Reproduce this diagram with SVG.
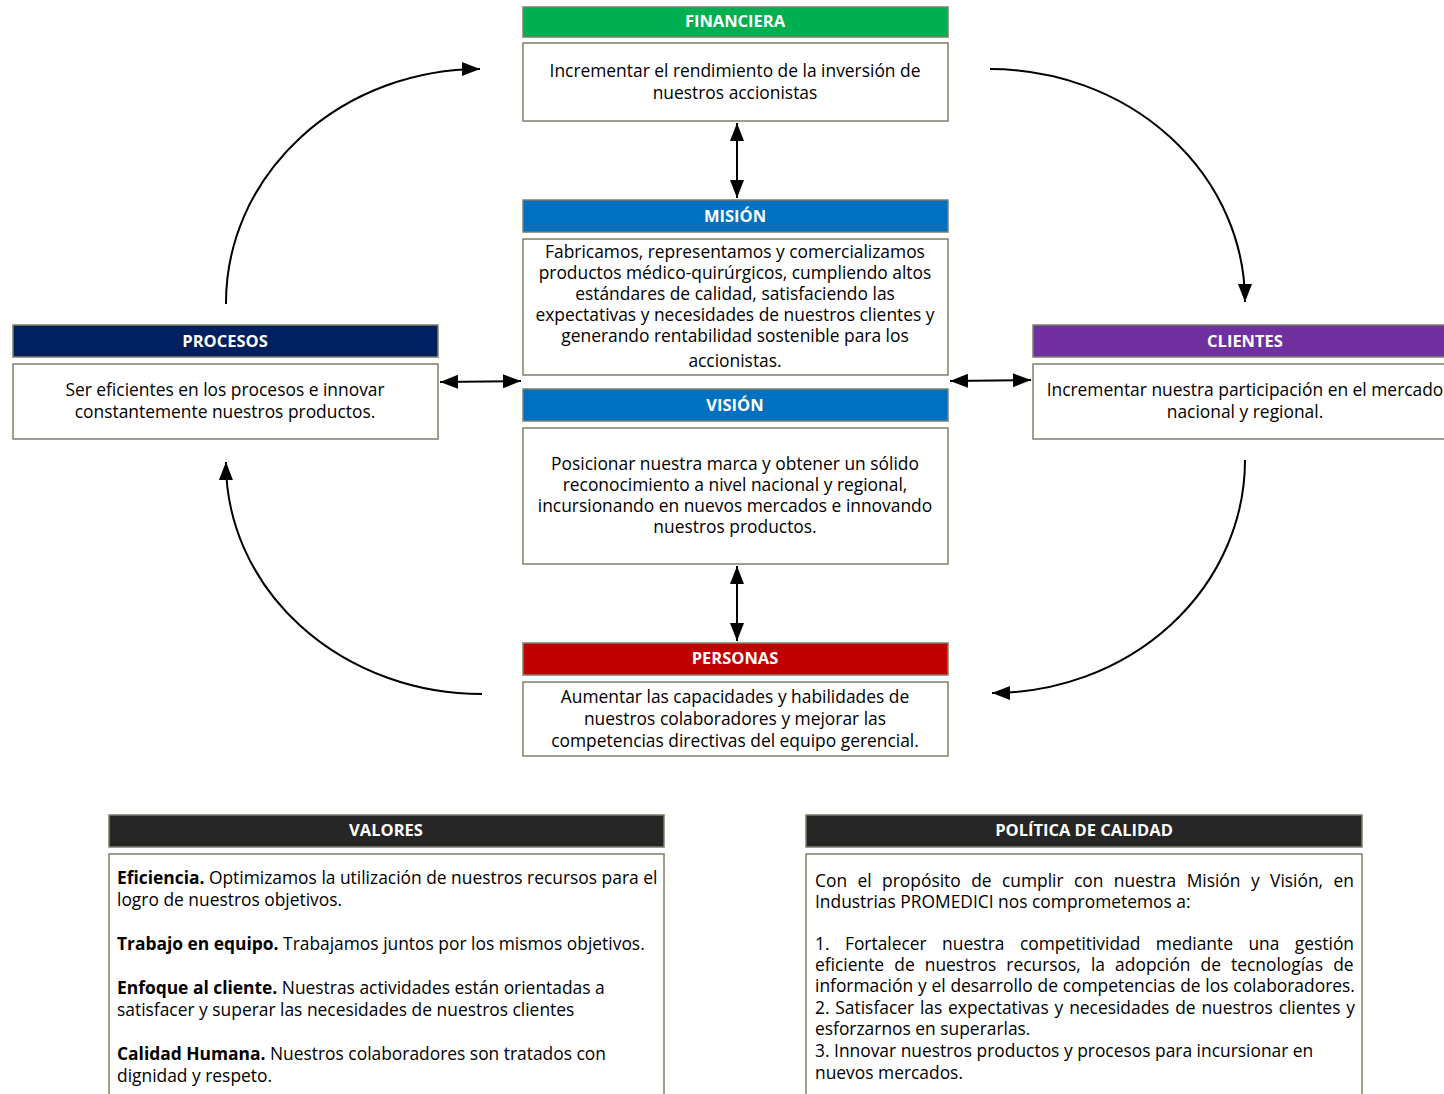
<svg xmlns="http://www.w3.org/2000/svg" width="1444" height="1094" viewBox="0 0 1444 1094">
  <style>
    .hdr { stroke: #7f7f6a; stroke-width: 1.5; }
    .box { fill: #ffffff; stroke: #7f7f6a; stroke-width: 1.5; }
    .ht { font-family: "Open Sans", "Liberation Sans", sans-serif; font-size: 16.5px; font-weight: bold; fill: #ffffff; text-anchor: middle; }
    .bt { font-family: "Open Sans", "Liberation Sans", sans-serif; font-size: 17.4px; fill: #000000; text-anchor: middle; }
    .lt { font-family: "Open Sans", "Liberation Sans", sans-serif; font-size: 17.4px; fill: #000000; }
    .b { font-weight: bold; }
    .conn { fill: none; stroke: #000000; stroke-width: 2; }
  </style>
  <defs>
    <marker id="arr" viewBox="0 0 18 14" refX="18" refY="7" markerWidth="9" markerHeight="7" orient="auto-start-reverse" markerUnits="strokeWidth">
      <path d="M0,0 L18,7 L0,14 Z" fill="#000000"/>
    </marker>
  </defs>
  <rect width="1444" height="1094" fill="#ffffff"/>

  <g id="connectors">
    <path class="conn" d="M737,123 L737,198" marker-start="url(#arr)" marker-end="url(#arr)"/>
    <path class="conn" d="M737,566 L737,641" marker-start="url(#arr)" marker-end="url(#arr)"/>
    <path class="conn" d="M440,382 L521,381" marker-start="url(#arr)" marker-end="url(#arr)"/>
    <path class="conn" d="M950,381 L1031,380" marker-start="url(#arr)" marker-end="url(#arr)"/>
    <path class="conn" d="M226,304 A254,234 0 0 1 480,69" marker-end="url(#arr)"/>
    <path class="conn" d="M990,69 A255,233 0 0 1 1245,302" marker-end="url(#arr)"/>
    <path class="conn" d="M1245,460 A253,233 0 0 1 992,693" marker-end="url(#arr)"/>
    <path class="conn" d="M482,694 A256,231 0 0 1 226,462" marker-end="url(#arr)"/>
  </g>

  <g id="financiera">
    <rect class="hdr" x="523" y="7" width="425" height="30" fill="#00b050"/>
    <text class="ht" x="735" y="27">FINANCIERA</text>
    <rect class="box" x="523" y="43" width="425" height="78"/>
    <text class="bt" x="735" y="77">Incrementar el rendimiento de la inversión de</text>
    <text class="bt" x="735" y="99">nuestros accionistas</text>
  </g>

  <g id="mision">
    <rect class="hdr" x="523" y="200" width="425" height="32" fill="#0070c0"/>
    <text class="ht" x="735" y="222">MISIÓN</text>
    <rect class="box" x="523" y="239" width="425" height="136"/>
    <text class="bt" x="735" y="258">Fabricamos, representamos y comercializamos</text>
    <text class="bt" x="735" y="279">productos médico-quirúrgicos, cumpliendo altos</text>
    <text class="bt" x="735" y="300">estándares de calidad, satisfaciendo las</text>
    <text class="bt" x="735" y="321">expectativas y necesidades de nuestros clientes y</text>
    <text class="bt" x="735" y="342">generando rentabilidad sostenible para los</text>
    <text class="bt" x="735" y="367">accionistas.</text>
  </g>

  <g id="vision">
    <rect class="hdr" x="523" y="389" width="425" height="32" fill="#0070c0"/>
    <text class="ht" x="735" y="411">VISIÓN</text>
    <rect class="box" x="523" y="428" width="425" height="136"/>
    <text class="bt" x="735" y="470">Posicionar nuestra marca y obtener un sólido</text>
    <text class="bt" x="735" y="491">reconocimiento a nivel nacional y regional,</text>
    <text class="bt" x="735" y="512">incursionando en nuevos mercados e innovando</text>
    <text class="bt" x="735" y="533">nuestros productos.</text>
  </g>

  <g id="personas">
    <rect class="hdr" x="523" y="643" width="425" height="32" fill="#c00000"/>
    <text class="ht" x="735" y="664">PERSONAS</text>
    <rect class="box" x="523" y="682" width="425" height="74"/>
    <text class="bt" x="735" y="703">Aumentar las capacidades y habilidades de</text>
    <text class="bt" x="735" y="725">nuestros colaboradores y mejorar las</text>
    <text class="bt" x="735" y="747">competencias directivas del equipo gerencial.</text>
  </g>

  <g id="procesos">
    <rect class="hdr" x="13" y="325" width="425" height="32" fill="#002060"/>
    <text class="ht" x="225" y="347">PROCESOS</text>
    <rect class="box" x="13" y="364" width="425" height="75"/>
    <text class="bt" x="225" y="396">Ser eficientes en los procesos e innovar</text>
    <text class="bt" x="225" y="418">constantemente nuestros productos.</text>
  </g>

  <g id="clientes">
    <rect class="hdr" x="1033" y="325" width="425" height="32" fill="#7030a0"/>
    <text class="ht" x="1245" y="347">CLIENTES</text>
    <rect class="box" x="1033" y="364" width="425" height="75"/>
    <text class="bt" x="1245" y="396">Incrementar nuestra participación en el mercado</text>
    <text class="bt" x="1245" y="418">nacional y regional.</text>
  </g>

  <g id="valores">
    <rect class="hdr" x="109" y="815" width="555" height="32" fill="#262626"/>
    <text class="ht" x="386" y="836">VALORES</text>
    <rect class="box" x="109" y="854" width="555" height="250"/>
    <text class="lt" x="117" y="884"><tspan class="b">Eficiencia.</tspan> Optimizamos la utilización de nuestros recursos para el</text>
    <text class="lt" x="117" y="906">logro de nuestros objetivos.</text>
    <text class="lt" x="117" y="950"><tspan class="b">Trabajo en equipo.</tspan> Trabajamos juntos por los mismos objetivos.</text>
    <text class="lt" x="117" y="994"><tspan class="b">Enfoque al cliente.</tspan> Nuestras actividades están orientadas a</text>
    <text class="lt" x="117" y="1016">satisfacer y superar las necesidades de nuestros clientes</text>
    <text class="lt" x="117" y="1060"><tspan class="b">Calidad Humana.</tspan> Nuestros colaboradores son tratados con</text>
    <text class="lt" x="117" y="1082">dignidad y respeto.</text>
  </g>

  <g id="politica">
    <rect class="hdr" x="806" y="815" width="556" height="32" fill="#262626"/>
    <text class="ht" x="1084" y="836">POLÍTICA DE CALIDAD</text>
    <rect class="box" x="806" y="854" width="556" height="250"/>
    <!-- justified lines: word-spacing pads each line out to the right margin -->
    <text class="lt" x="815" y="887" word-spacing="5.9">Con el propósito de cumplir con nuestra Misión y Visión, en</text>
    <text class="lt" x="815" y="908">Industrias PROMEDICI nos comprometemos a:</text>
    <text class="lt" x="815" y="950" word-spacing="10.9">1. Fortalecer nuestra competitividad mediante una gestión</text>
    <text class="lt" x="815" y="971" word-spacing="5.6">eficiente de nuestros recursos, la adopción de tecnologías de</text>
    <text class="lt" x="815" y="992" word-spacing="0.3">información y el desarrollo de competencias de los colaboradores.</text>
    <text class="lt" x="815" y="1014" word-spacing="1.3">2. Satisfacer las expectativas y necesidades de nuestros clientes y</text>
    <text class="lt" x="815" y="1035">esforzarnos en superarlas.</text>
    <text class="lt" x="815" y="1057">3. Innovar nuestros productos y procesos para incursionar en</text>
    <text class="lt" x="815" y="1079">nuevos mercados.</text>
  </g>
</svg>
